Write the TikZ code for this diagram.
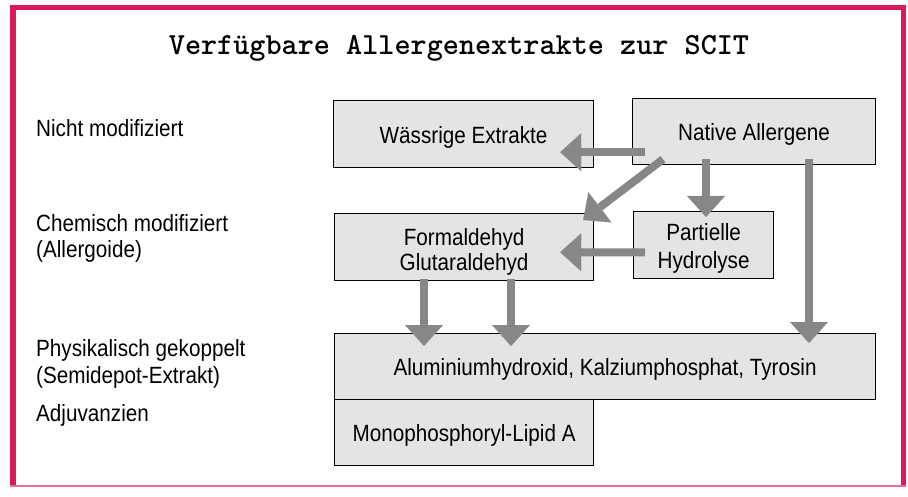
\documentclass[tikz,border=0pt]{standalone}
\usepackage{fontspec}
\setmainfont[FakeStretch=0.88]{Liberation Sans}
\usetikzlibrary{arrows.meta,calc}
\definecolor{framecol}{RGB}{216,27,86}
\definecolor{framelt}{RGB}{232,110,150}
\definecolor{boxfill}{RGB}{227,228,227}
\definecolor{arrgray}{RGB}{135,135,135}
\begin{document}
\begin{tikzpicture}[x=1pt,y=-1pt,
  box/.style={draw=black,line width=1.2pt,fill=boxfill,anchor=north west,inner sep=0pt,
    font=\fontsize{23.5}{25}\selectfont},
  onel/.style={text height=22pt,text depth=3.4pt},
  lab/.style={anchor=base west,inner sep=0pt,font=\fontsize{23.5}{25}\selectfont},
  garrow/.style={draw=arrgray,line width=8pt,
    -{Triangle[width=38pt,length=21pt,line width=0.1pt,fill=arrgray]}}]
\useasboundingbox (0,0) rectangle (908,497);
% frame
\draw[framecol,line width=5pt] (10,7.5) -- (906,7.5);
\draw[framecol,line width=6pt] (13,5) -- (13,487);
\draw[framecol,line width=5pt] (903.5,5) -- (903.5,487);
\draw[framelt,line width=2pt] (10,485.5) -- (906,485.5);
% title
\node[anchor=base,inner sep=0pt,font=\fontsize{30.7}{32}\selectfont\ttfamily\bfseries] (title) at (459,55) {Verfügbare Allergenextrakte zur SCIT};
% left labels
\node[lab] (l1) at (36,136.7) {Nicht modifiziert};
\node[lab] (l2) at (36,231.7) {Chemisch modifiziert};
\node[lab] (l3) at (36,258) {(Allergoide)};
\node[lab] (l4) at (36,356.7) {Physikalisch gekoppelt};
\node[lab] (l5) at (36,383) {(Semidepot-Extrakt)};
\node[lab] (l6) at (36,421.7) {Adjuvanzien};
% boxes
\node[box,onel,minimum width=260pt,minimum height=67pt] (wass) at (333,100) {Wässrige Extrakte};
\node[box,onel,minimum width=243pt,minimum height=66pt] (nat) at (632,98) {Native Allergene};
\node[box,minimum width=259pt,minimum height=67pt] (form) at (334,213)
  {\raisebox{-5.5pt}[\height][\depth]{\begin{tabular}{@{}c@{}}Formaldehyd\\Glutaraldehyd\end{tabular}}};
\node[box,minimum width=140pt,minimum height=67pt,font=\fontsize{23.5}{27.3}\selectfont] (part) at (633,211)
  {\raisebox{-3.9pt}[\height][\depth]{\begin{tabular}{@{}c@{}}Partielle\\Hydrolyse\end{tabular}}};
\node[box,onel,minimum width=541pt,minimum height=66pt] (alu) at (334,333) {Aluminiumhydroxid, Kalziumphosphat, Tyrosin};
\node[box,onel,minimum width=259pt,minimum height=66pt] (mono) at (334,399) {Monophosphoryl-Lipid A};
% arrows
\draw[garrow] ($(nat.south west)+(13,-13)$) -- ($(wass.south east)+(-34,-16)$);
\draw[garrow] ($(nat.south west)+(31,-6)$) -- ($(form.north east)+(-11,7)$);
\draw[garrow] ($(nat.south west)+(74,-6)$) -- ($(part.north west)+(73,6)$);
\draw[garrow] ($(nat.south west)+(177,-6)$) -- ($(alu.north west)+(475,10)$);
\draw[garrow] ($(part.south west)+(12,-26.7)$) -- ($(form.south east)+(-34,-29)$);
\draw[garrow] ($(form.south west)+(90,-2)$) -- ($(alu.north west)+(90,13)$);
\draw[garrow] ($(form.south west)+(177,-2)$) -- ($(alu.north west)+(177,13)$);
\end{tikzpicture}
\end{document}
